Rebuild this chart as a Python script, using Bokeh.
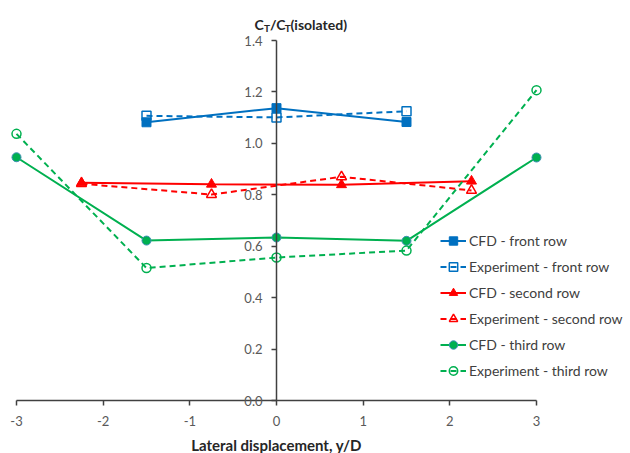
from bokeh.plotting import figure
from bokeh.models import Range1d, Legend, LegendItem, Label, FixedTicker, PrintfTickFormatter
from bokeh.embed import file_html
from bokeh.resources import INLINE

# ---- data ----
x_front = [-1.5, 0.0, 1.5]
cfd_front = [1.082, 1.137, 1.083]
exp_front = [1.107, 1.101, 1.125]

x_second = [-2.25, -0.75, 0.75, 2.25]
cfd_second = [0.847, 0.841, 0.839, 0.853]
exp_second = [0.843, 0.801, 0.870, 0.817]

x_third = [-3.0, -1.5, 0.0, 1.5, 3.0]
cfd_third = [0.946, 0.622, 0.634, 0.621, 0.945]
exp_third = [1.037, 0.515, 0.556, 0.583, 1.207]

x_ticks = [-3, -2, -1, 0, 1, 2, 3]
y_ticks = [0.0, 0.2, 0.4, 0.6, 0.8, 1.0, 1.2, 1.4]

labels = ["CFD - front row", "Experiment - front row",
          "CFD - second row", "Experiment - second row",
          "CFD - third row", "Experiment - third row"]

BLUE = "#0070C0"
RED = "#FF0000"
GREEN = "#00B050"
FONT = "Lato"

# frame covers the whole canvas; axes sit at x=0 / y=0 inside it
p = figure(width=630, height=453,
           x_range=Range1d(-3.1846, 4.0846), y_range=Range1d(-0.2061, 1.5556),
           output_backend="svg", toolbar_location=None,
           min_border_left=0, min_border_right=0,
           min_border_top=0, min_border_bottom=0)
p.grid.visible = False
p.outline_line_color = None
p.background_fill_color = "white"
p.border_fill_color = "white"

p.xaxis.bounds = (-3, 3)
p.yaxis.bounds = (0, 1.4)
p.xaxis.fixed_location = 0
p.yaxis.fixed_location = 0
p.xaxis.ticker = FixedTicker(ticks=x_ticks)
p.yaxis.ticker = FixedTicker(ticks=y_ticks)
p.xaxis.major_label_overrides = {t: str(t) for t in x_ticks}
p.yaxis.formatter = PrintfTickFormatter(format="%.1f")
for ax in (p.xaxis[0], p.yaxis[0]):
    ax.axis_line_color = "#404040"
    ax.axis_line_width = 1.5
    ax.major_tick_line_color = "#404040"
    ax.major_tick_line_width = 1.5
    ax.major_tick_out = 5
    ax.major_tick_in = 0
    ax.minor_tick_line_color = None
    ax.major_label_text_font = FONT
    ax.major_label_text_font_size = "13px"
    ax.major_label_text_color = "#595959"
p.xaxis.major_label_standoff = 10
p.yaxis.major_label_standoff = 9

# series
l1 = p.line(x_front, cfd_front, line_color=BLUE, line_width=2)
m1 = p.scatter(x_front, cfd_front, marker="square", size=9, fill_color=BLUE, line_color=BLUE)
l2 = p.line(x_front, exp_front, line_color=BLUE, line_width=2, line_dash="6 4")
m2 = p.scatter(x_front, exp_front, marker="square", size=9, fill_color=None, line_color=BLUE, line_width=1.5)

l3 = p.line(x_second, cfd_second, line_color=RED, line_width=2)
m3 = p.scatter(x_second, cfd_second, marker="triangle", size=10, fill_color=RED, line_color=RED)
l4 = p.line(x_second, exp_second, line_color=RED, line_width=2, line_dash="6 4")
m4 = p.scatter(x_second, exp_second, marker="triangle", size=10, fill_color=None, line_color=RED, line_width=1.5)

l5 = p.line(x_third, cfd_third, line_color=GREEN, line_width=2)
m5 = p.scatter(x_third, cfd_third, marker="circle", size=9, fill_color=GREEN, line_color="#3d8fb5", line_width=1)
l6 = p.line(x_third, exp_third, line_color=GREEN, line_width=2, line_dash="6 4")
m6 = p.scatter(x_third, exp_third, marker="circle", size=9, fill_color=None, line_color=GREEN, line_width=1.5)

groups = [[l1, m1], [l2, m2], [l3, m3], [l4, m4], [l5, m5], [l6, m6]]
items = [LegendItem(label=lab, renderers=g) for lab, g in zip(labels, groups)]
legend = Legend(items=items, location=(440, 72), padding=0, margin=0,
                spacing=5, label_height=21, glyph_height=21, glyph_width=26,
                label_standoff=3, background_fill_alpha=0, border_line_color=None,
                label_text_font=FONT, label_text_font_size="14px",
                label_text_color="#404040")
p.add_layout(legend, "center")

# title with subscripts
def tlabel(text, dx, dy, size):
    p.add_layout(Label(x=0, y=1.4, x_offset=dx, y_offset=dy, text=text,
                       text_font=FONT, text_font_style="bold",
                       text_font_size=size, text_color="#262626",
                       text_baseline="alphabetic", text_align="left"))

tlabel("C", -22, 16, "14px")
tlabel("T", -12.5, 13, "10px")
tlabel("/C", -6.5, 16, "14px")
tlabel("T", 8.2, 13, "10px")
tlabel("(isolated)", 14, 16, "14px")

# x-axis title
p.add_layout(Label(x=0, y=0, y_offset=-44, text="Lateral displacement, y/D",
                   text_font=FONT, text_font_style="bold", text_font_size="15px",
                   text_color="#262626", text_align="center", text_baseline="middle"))

open("out.html", "w").write(file_html(p, INLINE))
